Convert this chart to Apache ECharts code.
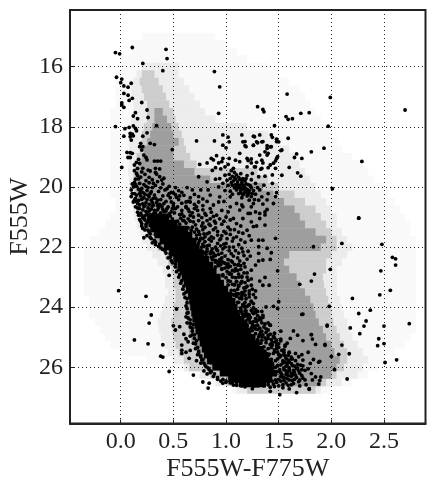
<!DOCTYPE html>
<html><head><meta charset="utf-8">
<style>html,body{margin:0;padding:0;background:#fff}#c{width:436px;height:493px}</style>
<script src="https://cdn.jsdelivr.net/npm/echarts@6/dist/echarts.min.js"></script>
</head><body><div id="c"></div>
<script>
const xTicks=[0,0.5,1,1.5,2,2.5];
const yTicks=[16,18,20,22,24,26];
const xTitle='F555W-F775W', yTitle='F555W';
// background density map, one row per magnitude: [y, x0, x1]
const faintRows=[[15,.2,.9],[15.25,.1,1],[15.5,.1,1.1],[15.75,0,1.2],[16,0,1.4],[16.25,-.05,1.5],[16.5,-.05,1.6],[16.75,-.05,1.7],[17,-.05,1.75],[17.25,-.05,1.8],[17.5,-.1,1.85],[17.75,-.1,1.9],[18,-.1,1.95],[18.25,-.1,2],[18.5,-.1,2.05],[18.75,-.1,2.1],[19,-.1,2.2],[19.25,-.1,2.3],[19.5,-.1,2.35],[19.75,-.1,2.4],[20,-.1,2.5],[20.25,-.1,2.55],[20.5,-.05,2.6],[20.75,-.05,2.65],[21,-.1,2.7],[21.25,-.15,2.75],[21.5,-.2,2.75],[21.75,-.3,2.8],[22,-.35,2.8],[22.25,-.35,2.8],[22.5,-.35,2.8],[22.75,-.35,2.8],[23,-.35,2.8],[23.25,-.35,2.8],[23.5,-.35,2.8],[23.75,-.3,2.8],[24,-.3,2.8],[24.25,-.3,2.8],[24.5,-.25,2.8],[24.75,-.2,2.8],[25,-.15,2.75],[25.25,-.1,2.7],[25.5,0,2.6],[25.75,.25,2.5],[26,.45,2.45],[26.25,.7,2.35],[26.5,.85,2.2],[26.75,1.05,2]];
const lightRows=[[16,.2,.55],[16.25,.15,.55],[16.5,.12,.6],[16.75,.1,.65],[17,.1,.7],[17.25,.12,.75],[17.5,.12,.8],[17.75,.1,.9],[18,.1,1.2],[18.25,.1,1.4],[18.5,.08,1.5],[18.75,.08,1.6],[19,.08,1.65],[19.25,.08,1.7],[19.5,.07,1.75],[19.75,.08,1.8],[20,.08,1.85],[20.25,.09,1.9],[20.5,.1,1.95],[20.75,.12,2],[21,.13,2.05],[21.25,.15,2.05],[21.5,.18,2.1],[21.75,.2,2.15],[22,.25,2.2],[22.25,.3,2.15],[22.5,.35,2.1],[22.75,.4,2.05],[23,.42,2.05],[23.25,.42,2.05],[23.5,.45,2.05],[23.75,.42,2.08],[24,.4,2.1],[24.25,.38,2.12],[24.5,.35,2.15],[24.75,.36,2.18],[25,.38,2.2],[25.25,.42,2.25],[25.5,.45,2.3],[25.75,.5,2.35],[26,.6,2.3],[26.25,.75,2.25],[26.5,.9,2.1],[26.75,1.1,1.9]];
const midRows=[[16.25,.2,.32],[16.5,.18,.36],[16.75,.2,.4],[17,.22,.43],[17.25,.25,.46],[17.5,.25,.5],[17.75,.25,.52],[18,.22,.55],[18.25,.2,.58],[18.5,.2,.6],[18.75,.18,.62],[19,.15,.66],[19.25,.13,.72],[19.5,.12,1.3],[19.75,.12,1.4],[20,.12,1.5],[20.25,.13,1.65],[20.5,.15,1.75],[20.75,.18,1.85],[21,.2,1.9],[21.25,.22,1.95],[21.5,.25,2],[21.75,.3,2.05],[22,.35,2.05],[22.25,.42,2],[22.5,.45,1.95],[22.75,.48,1.95],[23,.5,1.92],[23.25,.5,1.93],[23.5,.52,1.95],[23.75,.52,1.97],[24,.5,2],[24.25,.5,2],[24.5,.48,2.02],[24.75,.49,2.05],[25,.5,2.08],[25.25,.52,2.12],[25.5,.55,2.15],[25.75,.6,2.15],[26,.65,2.12],[26.25,.85,2.05],[26.5,1,1.95],[26.75,1.2,1.85]];
const darkRows=[[17.5,.32,.4],[17.75,.32,.44],[18,.3,.48],[18.25,.28,.5],[18.5,.25,.55],[18.75,.22,.5],[19,.2,.5],[19.25,.18,.6],[19.5,.14,.7],[19.75,.14,.85],[20,.14,1.35],[20.25,.15,1.45],[20.5,.17,1.55],[20.75,.2,1.65],[21,.22,1.7],[21.25,.25,1.75],[21.5,.28,1.85],[21.75,.33,1.95],[22,.38,1.9],[22.25,.45,1.6],[22.5,.48,1.55],[22.75,.52,1.6],[23,.55,1.67],[23.25,.58,1.7],[23.5,.6,1.75],[23.75,.62,1.8],[24,.62,1.83],[24.25,.62,1.85],[24.5,.63,1.88],[24.75,.65,1.92],[25,.67,1.95],[25.25,.7,2],[25.5,.73,2.03],[25.75,.78,2.08],[26,.85,2.05],[26.25,1,2],[26.5,1.2,1.9]];
// saturated main-sequence core, rows of 0.2 mag: [y, x0, x1]
const coreRows=[[21,.25,.46],[21.2,.27,.54],[21.4,.28,.64],[21.6,.32,.68],[21.8,.37,.72],[22,.41,.75],[22.2,.46,.79],[22.4,.5,.84],[22.6,.54,.88],[22.8,.56,.91],[23,.58,.95],[23.2,.6,.98],[23.4,.62,1.02],[23.6,.64,1.06],[23.8,.65,1.09],[24,.66,1.11],[24.2,.67,1.13],[24.4,.68,1.16],[24.6,.7,1.2],[24.8,.71,1.24],[25,.73,1.28],[25.2,.75,1.32],[25.4,.77,1.36],[25.6,.79,1.4],[25.8,.82,1.44],[26,.87,1.46],[26.2,.94,1.48],[26.4,1.02,1.44],[26.55,1.12,1.38]];
const upperStars=[[-.05,15.53],[-.01,15.57],[.11,15.36],[.43,15.42],[.44,15.73],[.21,15.89],[.4,16.13],[.89,16.16],[.94,16.67],[.93,17.55],[-.04,16.35],[.01,16.41],[0,16.53],[.03,16.64],[.07,16.68],[.1,16.55],[.03,16.89],[.07,16.95],[.11,17.05],[.08,17.12],[.01,17.2],[.01,17.27],[.03,17.35],[.2,17.19],[.25,17.44],[.26,17.69],[.14,17.53],[.12,17.64],[.16,17.73],[.34,17.96],[-.05,17.99],[.04,18.06],[.08,18.02],[.12,17.97],[.14,18.05],[.15,18.13],[.03,18.31],[.09,18.22],[.11,18.24],[.09,18.33],[.12,18.3],[.1,18.44],[.25,18.2],[.21,18.31],[.19,18.55],[.18,18.66],[.21,18.66],[.28,18.55],[.32,18.59],[.72,18.47],[.49,18.76],[.06,18.85],[.09,18.86],[.11,18.88],[.07,19.02],[.09,19.02],[.01,19.35],[.2,18.77],[.22,18.94],[.24,19.02],[.17,19.08],[.15,19.18],[.18,19.22],[.13,19.27],[.25,19.1],[.32,19.14],[.35,19.14],[.38,19.14],[.16,19.38],[.21,19.38],[.26,19.44],[.33,19.38],[.37,19.4],[.34,19.57],[.41,19.71],[.39,19.77]];
const upperMainSeq=[[.13,19.46],[.16,19.62],[.2,19.5],[.17,19.73],[.23,19.58],[.27,19.68],[.3,19.76],[.33,19.52],[.37,19.66],[.24,19.79],[.15,19.55],[.19,19.67],[.28,19.47],[.13,19.85],[.15,19.98],[.18,19.88],[.2,20.05],[.22,19.92],[.25,20.12],[.27,19.86],[.3,20.02],[.33,19.95],[.36,20.15],[.4,19.9],[.44,20.06],[.48,20.18],[.19,20.14],[.24,19.98],[.29,20.16],[.38,20.03],[.55,20.12],[.1,20.1],[.1,20.32],[.12,20.5],[.15,20.27],[.17,20.45],[.19,20.3],[.21,20.56],[.23,20.24],[.25,20.42],[.27,20.33],[.3,20.52],[.32,20.27],[.35,20.44],[.37,20.58],[.4,20.3],[.43,20.48],[.47,20.36],[.5,20.55],[.55,20.42],[.6,20.28],[.16,20.55],[.2,20.41],[.24,20.52],[.28,20.22],[.33,20.37],[.14,20.66],[.16,20.84],[.18,20.72],[.2,20.95],[.22,20.65],[.24,20.82],[.26,20.7],[.28,20.93],[.3,20.64],[.32,20.78],[.34,20.97],[.36,20.69],[.38,20.86],[.4,20.74],[.42,20.94],[.45,20.66],[.48,20.83],[.52,20.72],[.56,20.92],[.62,20.68],[.68,20.86],[.19,20.87],[.23,20.96],[.27,20.8],[.31,20.9],[.35,20.62],[.43,20.8],[.47,20.97],[.5,20.63],[.18,21.08],[.2,21.22],[.22,21.05],[.24,21.32],[.26,21.14],[.28,21.28],[.57,21.04],[.62,21.2],[.68,21.34],[.74,21.12],[.21,21.38],[.25,21.2],[.23,21.43],[.25,21.62],[.27,21.5],[.29,21.72],[.31,21.44],[.33,21.58],[.7,21.5],[.76,21.7],[.82,21.56],[.28,21.68],[.32,21.78],[.36,21.56],[.22,21.69],[.3,21.86],[.33,21.92],[.36,21.98],[.38,22.03],[.42,22.12],[.47,22.22],[.45,22.36],[.48,22.45],[.45,22.68],[.46,22.94],[.52,22.56],[.55,22.76],[.56,22.92],[.58,23.12],[.6,23.3],[.6,23.05],[.62,23.5],[.61,23.68],[.63,23.85],[.63,24.05]];
const denseMainSeq=[[.14,19.92],[.17,20.08],[.21,20.18],[.26,20.02],[.31,19.88],[.35,19.82],[.42,20.1],[.46,19.98],[.52,20.26],[.13,20.22],[.14,20.38],[.18,20.22],[.22,20.36],[.26,20.28],[.29,20.44],[.31,20.38],[.34,20.52],[.38,20.42],[.41,20.55],[.45,20.28],[.48,20.5],[.53,20.34],[.58,20.54],[.64,20.48],[.15,20.48],[.18,20.6],[.21,20.76],[.23,20.62],[.25,20.9],[.27,20.58],[.29,20.74],[.31,20.6],[.33,20.86],[.35,20.76],[.37,20.92],[.39,20.64],[.41,20.82],[.44,20.72],[.46,20.9],[.49,20.72],[.51,20.86],[.54,20.66],[.58,20.78],[.6,20.98],[.65,20.82],[.7,20.72],[.17,20.94],[.19,21.14],[.21,21.02],[.49,21.06],[.54,21.14],[.56,21.24],[.59,21.12],[.64,21.36],[.66,21.14],[.71,21.26],[.77,21.3],[.2,21.3],[.67,21.44],[.72,21.72],[.74,21.48],[.79,21.56],[.7,21.92],[.77,22],[.78,21.9],[.81,22.24],[.82,22.14],[.86,22.34],[.9,22.44],[.92,22.54],[.9,22.28],[.93,22.62],[.96,22.72],[.97,22.92],[.99,22.7],[1,23.02],[1.03,22.86],[1.04,23.14],[1.06,23.24],[1.08,23.26],[1.08,23.44],[1.1,23.16],[1.12,23.3],[1.14,23.7],[1.15,23.52],[1.15,23.72],[1.17,23.94],[1.18,24.12],[1.2,24.28],[1.16,23.92],[1.2,23.98],[1.23,24.34],[1.25,24.56],[1.23,24.5],[1.26,24.66],[1.29,24.48],[1.3,24.74],[1.33,24.82],[1.32,24.9],[1.37,25.02],[1.38,24.84],[1.4,25.04],[1.43,25.22],[1.42,25.24],[1.46,25.42],[1.49,25.24],[1.49,25.5],[1.52,25.62],[1.53,25.44],[1.55,25.5],[1.57,25.7],[1.56,25.82],[1.58,25.96],[1.57,26.12],[1.6,26.02],[1.59,26.28],[1.55,26.34],[1.52,26.3],[.98,21.9],[.92,21.88],[.86,21.66],[.8,21.82],[.84,21.94],[.87,22.06],[.92,22.12],[.96,22.2],[.94,22.42],[.98,22.52],[1.02,22.56],[1.04,22.64],[1.06,22.78],[1.09,22.72],[1.12,22.58],[1.11,22.78],[1.12,23],[1.15,23],[1.15,23.14],[1.17,23.36],[1.18,23.46],[1.2,23.3],[1.22,23.46],[1.24,23.8],[1.22,23.92],[1.26,24.02],[1.28,24.08],[1.28,24.18],[1.32,24.36],[1.35,24.34],[1.33,24.42],[1.37,24.56],[1.4,24.52],[1.42,24.6],[1.46,24.88],[1.48,25.1],[1.52,25.12],[1.56,25.3],[1.6,25.52],[1.62,25.72],[1.65,25.96],[1.67,26.04],[1.64,26.24]];
const extraField=[[.62,20.5],[.66,20.36],[.7,20.58],[.74,20.32],[.78,20.76],[.74,20.5],[.82,20.48],[.86,20.84],[.5,20.2],[.58,20.18],[.63,20.02],[.68,20.1],[.46,20.22],[.52,20.02],[.56,20.3],[.64,20.74],[.69,21],[.73,20.78],[.77,21.02],[.81,20.94],[.85,21.06],[.89,21.14],[.6,21.12],[.64,21.06],[.72,21.4],[.78,21.2],[.8,21.34],[.84,21.24],[.9,21.2],[.94,21.06],[.98,21.14],[1.04,21.1],[.75,21.58],[.8,21.66],[.84,21.74],[.88,21.7],[.92,21.48],[.96,21.62],[1,21.54],[1.04,21.42],[1.07,21.7],[1.12,21.5],[1.14,21.76],[.75,21.78],[.79,21.98],[.82,22.06],[.85,22.22],[.88,22.32],[.91,22.08],[.95,21.96],[.99,22],[1.03,22.12],[1.07,22],[1.07,22.3],[1.12,22.2],[1.16,22.16],[1.2,22.4],[1.13,22.46],[.9,22.5],[.96,22.48],[1.01,22.62],[1.06,22.5],[1.14,22.62],[1.18,22.66],[1.05,22.9],[1.12,22.9],[1.17,22.86],[1.2,23],[1.18,23.18],[1.24,23.06],[1.25,23.4],[1.02,23.26],[1.07,23.58],[1.1,23.64],[1.12,23.56],[1.18,23.6],[1.22,23.66],[1.26,23.58],[1.12,23.84],[1.18,24],[1.26,23.88],[1.14,24.08],[1.16,24.26],[1.2,24.22],[1.25,24.16],[1.3,24.14],[1.34,24.14],[1.16,24.34],[1.19,24.46],[1.22,24.42],[1.28,24.38],[1.34,24.52],[1.2,24.64],[1.24,24.7],[1.28,24.62],[1.32,24.7],[1.38,24.72],[1.25,24.78],[1.28,24.88],[1.31,24.98],[1.35,24.92],[1.42,24.9],[1.45,24.98],[1.3,25.08],[1.34,25.1],[1.38,25.18],[1.43,25.08],[1.47,25.16],[1.33,25.2],[1.36,25.32],[1.4,25.38],[1.44,25.26],[1.5,25.34],[1.37,25.46],[1.41,25.56],[1.46,25.48],[1.5,25.58],[1.55,25.58],[1.59,25.6],[1.4,25.62],[1.43,25.74],[1.47,25.78],[1.51,25.66],[1.59,25.76],[1.63,25.72],[1.44,25.86],[1.49,25.94],[1.54,25.86],[1.58,25.88],[1.62,25.88],[1.68,25.9],[1.47,26],[1.51,26.08],[1.55,26.02],[1.6,26.06],[1.64,26.1],[1.69,26.12],[1.72,26.08],[1.49,26.14],[1.53,26.24],[1.58,26.18],[1.62,26.2],[1.66,26.26],[1.72,26.28],[1.47,26.24],[1.5,26.4],[1.55,26.44],[1.6,26.42],[1.65,26.4],[1.7,26.42],[1.48,26.5],[1.54,26.58],[1.59,26.6],[1.64,26.54],[1.44,26.46],[1.4,26.58],[1.46,26.64],[1.36,26.62],[1.3,26.58],[1.27,26.62],[1.2,26.6],[1.15,26.62],[1.06,26.52],[1,26.5],[.97,26.4],[.92,26.34],[.89,26.22],[.86,26.14],[.84,26.08],[.81,25.98],[.79,25.86],[.77,25.76],[.76,25.66],[.74,25.52],[.73,25.34],[.71,25.22],[.7,25.04],[.68,24.92],[.68,24.7],[.66,24.54],[.64,24.36],[.63,24.2],[.62,23.96],[.63,23.72],[.6,23.56],[.59,23.4],[.57,23.2],[.55,23],[.53,22.82],[.52,22.66],[.49,22.52],[.47,22.34],[.43,22.2],[.4,22.08],[.37,21.9],[.33,21.84],[.28,21.56],[.26,21.44],[.24,21.24],[.23,21.1],[.16,20.7],[.13,20.44],[.11,20.22],[.12,20],[.14,19.74],[.11,19.9]];
const leftEdge=[[.53,24.06],[.64,24.18],[.62,24.32],[.66,24.42],[.63,24.52],[.66,24.66],[.69,24.58],[.68,24.8],[.7,24.92],[.66,24.96],[.72,25.12],[.69,25.2],[.71,25.38],[.74,25.46],[.66,25.44],[.76,25.62],[.73,25.58],[.78,25.74],[.76,25.86],[.8,25.92],[.83,26.02],[.79,26.12],[.85,26.18],[.88,26.3],[.82,26.22],[.92,26.4],[.95,26.46],[.72,25.78],[.65,25.7],[.62,25.5],[-.02,23.45],[.24,23.64],[.29,24.26],[.27,24.53],[.5,24.62],[.52,24.76],[.56,24.65],[.13,25.09],[.26,25.22],[.4,25.25],[.38,25.63],[.4,25.66],[.58,25.26],[.58,25.43],[.58,25.54],[.46,26.14],[.69,26.26],[.78,26.49],[.84,26.53],[.83,26.69],[.97,26.53],[1.07,26.59],[.45,22.68],[.62,25.05],[.6,24.9],[.64,25.15],[1,26.45],[1.04,26.52],[1.1,26.5],[1.14,26.58],[1.22,26.55],[1.3,26.62],[1.36,26.58]];
const clumpStars=[[.89,18.47],[.97,18.27],[1.02,18.34],[1.03,18.5],[.97,18.61],[1,18.7],[1.15,18.27],[1.16,18.5],[1.26,18.31],[1.32,18.27],[1.29,18.5],[1.34,18.5],[1.43,18.27],[1.48,18.41],[1.5,18.5],[1.39,18.63],[1.43,18.66],[1.53,18.77],[1.18,18.63],[1.26,18.61],[1.13,18.88],[1.37,18.83],[1.4,18.88],[.91,18.96],[.97,19.05],[.86,19.05],[1.03,19.05],[1.09,19.11],[1.2,19.05],[1.24,19.07],[1.34,19.11],[1.48,19.05],[.75,19.25],[.82,19.2],[.9,19.36],[.99,19.33],[1.02,19.25],[1.13,19.16],[1.28,19.33],[1.34,19.38],[1.42,19.27],[1.47,19.38],[.74,19.66],[.9,19.74],[.94,19.72],[.99,19.61],[1.07,19.38],[.88,19.1],[.93,19.2],[.96,19.16],[.95,19.4],[.87,19.45],[1.05,19.46],[1.08,19.52],[1.03,19.58],[1.06,19.65],[1.1,19.6],[1.12,19.68],[1.09,19.74],[1.14,19.56],[1.16,19.72],[1.04,19.72],[1.07,19.8],[1.11,19.83],[1.15,19.86],[1.18,19.8],[1.05,19.86],[1.09,19.92],[1.13,19.95],[1.17,19.98],[1.21,19.92],[1.12,20.02],[1.16,20.06],[1.2,20.08],[1.24,20.02],[1.08,20.03],[1.14,20.12],[1.18,20.16],[1.22,20.2],[1.26,20.12],[1.12,20.22],[1.16,20.26],[1.2,20.3],[1.24,20.32],[1.28,20.24],[1.15,20.36],[1.27,20.42],[1.22,20.44],[1.01,19.78],[.97,19.88],[1.02,19.95],[.99,20.12],[1.04,20.14],[1.06,20.24],[1.2,19.62],[1.24,19.76],[1.28,19.88],[1.3,20.02],[.82,19.83],[.93,20],[.83,20.1],[.76,20.1],[.85,20.27],[.66,20.5],[.72,20.66],[.94,20.33],[.93,20.5],[1.04,20.33],[1.04,20.66],[1.02,20.83],[1,21],[1.07,21.05],[.85,20.72],[.8,20.88],[.74,20.94],[.69,21.16],[.91,20.94],[1.1,20.55],[1.15,20.6],[1.24,20.66],[1.31,20.44],[1.34,20.33],[1.4,20.22],[1.13,20.77],[1.21,20.88],[1.28,20.83],[1.37,20.83],[1.16,21.05],[1.24,21.16],[1.32,21.05],[1.1,21.22],[.78,20.4],[.7,20.25],[.62,20.65],[.66,20.95],[.58,20.9],[.78,20.62],[.88,20.6],[.98,20.48],[.96,20.78],[.88,20.98],[.82,21.12],[1.11,19.9],[1.15,19.78],[1.19,19.9],[1.23,19.96],[1.1,20.1],[1.14,20.04],[1.18,20.04],[1.22,20.12],[1.17,20.22],[1.21,20.24],[1.13,19.74],[1.08,19.68],[1.06,19.94],[1.1,19.98],[1.16,19.94],[1.2,20.18],[1.25,20.22],[1.14,20.2],[1.19,19.72]];
const branchStars=[[1.58,16.91],[1.99,17.02],[2.7,17.44],[1.3,17.33],[1.35,17.42],[1.36,17.5],[1.57,17.66],[1.59,17.75],[1.63,17.73],[1.71,17.55],[1.79,17.53],[1.46,17.96],[1.97,17.98],[1.59,18.38],[1.93,18.71],[1.81,18.83],[2.29,19.15],[1.67,18.9],[1.65,19.02],[1.72,19.05],[1.6,19.35],[1.68,19.53],[1.71,19.64],[1.53,19.61],[2.01,20.06],[2.26,21.03],[1.27,18.33],[1.18,18.49],[1.19,18.66],[1.3,18.53],[1.26,18.62],[1.35,18.49],[1.44,18.35],[1.48,18.49],[1.39,18.72],[1.42,18.67],[1.52,18.79],[1.39,18.94],[1.32,18.94],[1.49,18.99],[1.47,19.13],[1.21,19.12],[1.24,19.2],[1.29,19.18],[1.35,19.2],[1.45,19.21],[1.4,19.36],[1.33,19.41],[1.27,19.33],[1.2,19.33],[1.25,19.55],[1.44,19.6],[1.31,19.66],[1.37,19.64],[1.44,19.88],[1.36,19.94],[1.32,20.1],[1.39,20.43],[1.35,20.57],[1.26,20.55],[1.48,20.19],[1.47,20.32],[1.45,20.55],[1.39,20.75],[1.32,20.88],[1.37,20.93],[1.23,20.88],[1.16,20.66]];
const fieldStars=[[1.26,21.32],[1.29,21.3],[1.37,21.27],[1.24,21.77],[1.47,21.71],[1.31,21.77],[1.35,21.77],[1.31,21.99],[1.39,22.04],[1.43,22.19],[1.31,22.21],[1.23,22.3],[1.35,22.43],[1.42,22.41],[1.31,22.46],[1.28,22.6],[1.24,22.77],[1.49,22.79],[1.37,23.01],[1.32,23.13],[1.35,23.27],[1.41,23.27],[1.24,23.27],[1.28,23.46],[1.28,23.68],[1.5,23.82],[1.24,23.82],[1.45,23.97],[1.49,24.04],[1.38,23.99],[1.24,24.1],[1.18,24.23],[1.35,24.27],[1.26,24.21],
[.85,21.28],[.9,21.36],[.96,21.24],[1.02,21.34],[1.08,21.42],[1.14,21.3],[1.2,21.44],[.78,21.42],[.84,21.52],[.92,21.6],[.98,21.48],[1.04,21.58],[1.1,21.66],[1.16,21.54],[1.22,21.62],[.72,21.6],[.78,21.72],[.86,21.8],[.94,21.76],[1,21.88],[1.06,21.8],[1.12,21.92],[1.18,21.84],[.74,21.86],[.82,21.96],[.9,22],[.97,22.06],[1.03,22],[1.09,22.12],[1.15,22.04],[1.21,22.14],[.76,22.1],[.8,22.18],[.86,22.14],[.93,22.24],[.99,22.3],[1.05,22.22],[1.11,22.36],[1.17,22.28],[.87,22.42],[.93,22.48],[.99,22.54],[1.05,22.46],[1.11,22.6],[1.17,22.54],[.9,22.66],[.96,22.74],[1.02,22.68],[1.08,22.8],[1.14,22.74],[1.2,22.86],[.97,22.96],[1.03,22.9],[1.09,23.02],[1.15,22.98],[1.21,23.1],[1.02,23.12],[1.08,23.24],[1.14,23.2],[1.19,23.34],[1.05,23.44],[1.11,23.4],[1.16,23.52],[1.22,23.56],[1.08,23.6],[1.13,23.7],[1.19,23.72],[1.11,23.84],[1.16,23.92],[1.21,23.94],[1.14,24.02],[1.19,24.12],[1.12,24.24],[1.15,24.18],[1.16,24.44],[1.21,24.38],[1.26,24.48],[1.31,24.42],[1.2,24.58],[1.25,24.64],[1.3,24.6],[1.36,24.66],[1.42,24.6],
[.88,21.42],[.95,21.72],[1.01,21.72],[.88,22.2],[.96,22.36],[1.02,22.42],[1.08,22.58],[.95,22.58],[1.01,22.82],[1.06,23],[1.1,23.14],[1.12,23.28],[1.1,23.54],[1.15,23.62],[1.18,23.84],[1.14,24.12],[1.22,24.26],[1.3,24.28],[1.18,24.3],[1.23,24.74],[1.28,24.72],[1.34,24.8],[1.4,24.76],[1.46,24.86],[1.52,24.8]];
const lowerStars=[[1.73,24.23],[1.96,24.6],[1.64,24.79],[1.68,24.93],[1.81,24.91],[1.82,25.06],[1.61,25.04],[1.73,25.11],[1.85,25.24],[1.94,25.24],[1.56,25.26],[1.51,25.6],[1.69,25.65],[1.73,25.76],[1.83,25.74],[1.89,25.8],[1.8,25.87],[1.71,25.93],[1.75,26.1],[1.81,26.21],[1.85,26.32],[1.9,26.32],[1.88,26.56],[1.79,26.71],[1.67,26.84],[1.51,26.91],[1.42,26.8],[1.25,26.71],[1.1,26.6],[1.18,26.65],
[1.34,24.98],[1.4,24.94],[1.46,25.02],[1.52,25.06],[1.38,25.08],[1.44,25.16],[1.5,25.22],[1.43,25.34],[1.48,25.38],[1.55,25.42],[1.6,25.5],[1.45,25.54],[1.56,25.62],[1.62,25.66],[1.49,25.72],[1.54,25.78],[1.6,25.82],[1.66,25.78],[1.52,25.92],[1.57,25.96],[1.63,25.94],[1.68,26.02],[1.55,26.08],[1.6,26.12],[1.65,26.16],[1.7,26.2],[1.52,26.18],[1.57,26.24],[1.62,26.3],[1.67,26.34],[1.73,26.36],[1.53,26.32],[1.58,26.38],[1.63,26.44],[1.69,26.48],[1.75,26.42],[1.47,26.42],[1.52,26.46],[1.57,26.52],[1.62,26.58],[1.4,26.5],[1.45,26.56],[1.5,26.62],[1.42,26.66],[1.54,26.68],[1.6,26.72],[1.73,25.95],[1.78,26.05],[1.66,25.54],[1.58,25.2],[1.48,25.28],[1.72,25.58],[1.78,25.5],[1.82,26.42],[1.76,26.58],[1.7,26.62]];
const redStars=[[2.26,21.04],[2.1,21.88],[2.48,21.91],[1.83,21.99],[2.58,22.34],[2.61,22.39],[2.61,22.6],[2.47,22.79],[1.99,22.74],[1.84,22.9],[1.81,23.13],[1.7,23.24],[2.56,23.44],[2.46,23.59],[2.2,23.71],[1.98,23.97],[2.37,24.1],[2.26,24.21],[1.72,24.24],[2.33,24.46],[2.74,24.55],[2.5,24.63],[2.31,24.63],[2.18,24.69],[1.96,24.63],[2.27,24.88],[1.81,24.91],[2.45,25.05],[2.5,25.21],[2.44,25.28],[2.1,25.26],[1.94,25.27],[2.17,25.55],[2.07,25.57],[2,25.64],[2.62,25.75],[2.51,25.84],[1.88,25.83],[2.03,26.08],[2.15,26.39],[1.79,26.73],[1.89,26.44]];
const X0=-0.4815,X1=2.894,Y0=14.113,Y1=27.87;
function spans(rows,h,fill,z){return {type:'custom',coordinateSystem:'cartesian2d',silent:true,z,clip:true,
 data:rows,encode:{x:[1,2],y:0},
 renderItem:(p,api)=>{const a=api.coord([api.value(1),api.value(0)-h/2]),b=api.coord([api.value(2),api.value(0)+h/2]);
  return {type:'rect',shape:{x:a[0],y:a[1],width:b[0]-a[0],height:b[1]-a[1]},style:{fill}};}};}
const stars=[].concat(upperStars,upperMainSeq,denseMainSeq,extraField,leftEdge,clumpStars,branchStars,fieldStars,lowerStars,redStars);
const font='"Liberation Serif",serif';
echarts.init(document.getElementById('c'),null,{renderer:'canvas'}).setOption({
 animation:false,backgroundColor:'#fff',
 grid:{left:70,top:10,width:355.5,height:413.5,outerBoundsMode:'none',containLabel:false,show:true,borderColor:'#222',borderWidth:2,backgroundColor:'#fff'},
 xAxis:{type:'value',min:X0,max:X1,z:1,name:xTitle,nameLocation:'middle',nameGap:33,nameMoveOverlap:false,nameTextStyle:{fontFamily:font,fontSize:26,color:'#222'},
  axisLine:{show:true,onZero:false,lineStyle:{color:'#222',width:2}},
  axisTick:{show:true,inside:true,length:4,customValues:xTicks,lineStyle:{color:'#222'}},
  axisLabel:{customValues:xTicks,margin:6,fontFamily:font,fontSize:24,color:'#222',formatter:v=>v.toFixed(1)},
  splitLine:{show:true,lineStyle:{type:[1,3],color:'#222',width:1}}},
 yAxis:{type:'value',min:Y0,max:Y1,inverse:true,z:1,name:yTitle,nameLocation:'middle',nameGap:37,nameMoveOverlap:false,nameTextStyle:{fontFamily:font,fontSize:26,color:'#222'},
  axisLine:{show:true,onZero:false,lineStyle:{color:'#222',width:2}},
  axisTick:{show:true,inside:true,length:4,customValues:yTicks,lineStyle:{color:'#222'}},
  axisLabel:{customValues:yTicks,margin:7,fontFamily:font,fontSize:24,color:'#222',formatter:v=>String(v)},
  splitLine:{show:true,lineStyle:{type:[1,3],color:'#222',width:1}}},
 series:[spans(faintRows,.26,'#f9f9f9',0),spans(lightRows,.26,'#ececec',0),spans(midRows,.26,'#cdcdcd',0),spans(darkRows,.26,'#9e9e9e',0),
  spans(coreRows,.22,'#000',3),
  {type:'scatter',z:4,silent:true,symbol:'circle',symbolSize:3.8,itemStyle:{color:'#000',opacity:1},data:stars}]
});
</script></body></html>
